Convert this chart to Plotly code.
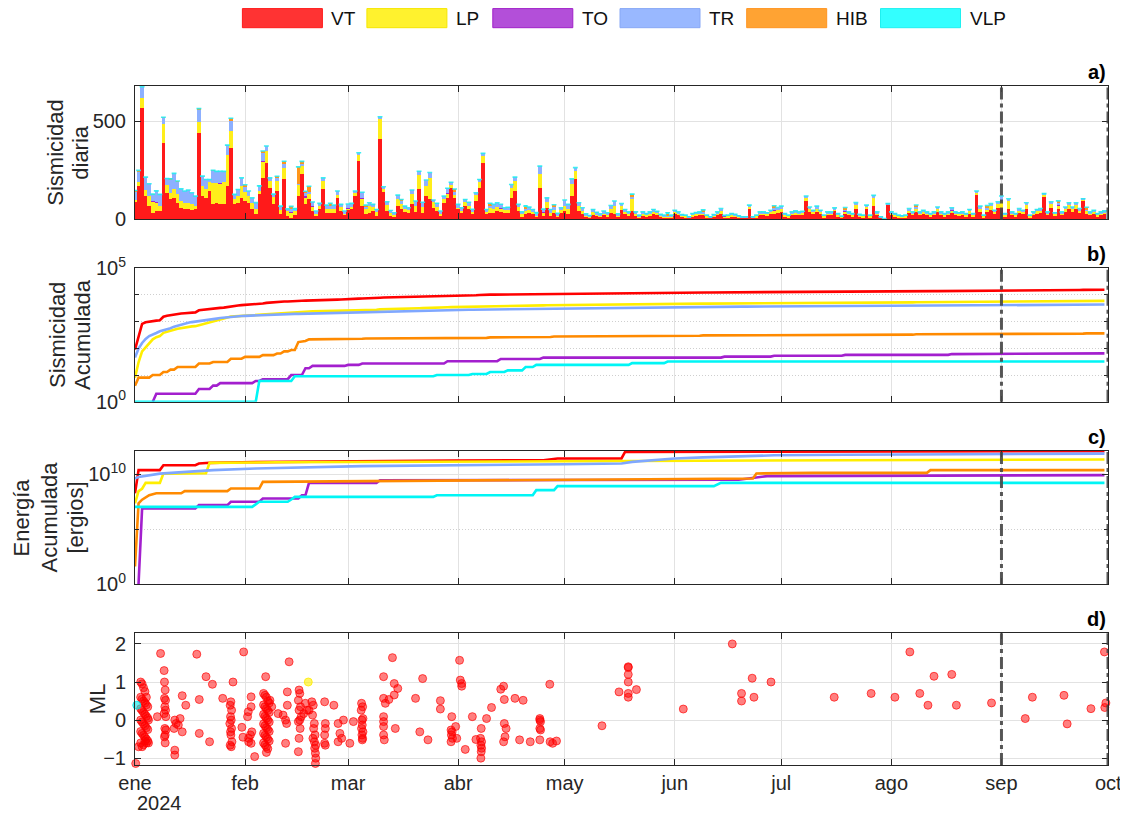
import numpy as np
import pandas as pd
import plotly.graph_objects as go
from plotly.subplots import make_subplots

# ---------------- data ----------------
START = "2024-01-01"
END = "2024-10-01"
N_DAYS = 274
MONTH_TICKS = ["2024-01-01", "2024-02-01", "2024-03-01", "2024-04-01", "2024-05-01",
               "2024-06-01", "2024-07-01", "2024-08-01", "2024-09-01", "2024-10-01"]
MONTH_LABELS = ["ene", "feb", "mar", "abr", "may", "jun", "jul", "ago", "sep", "oct"]
YEAR_LABEL = "2024"
MARK_DATES = ["2024-09-01", "2024-10-01"]
CATEGORIES = ["VT", "LP", "TO", "TR", "HIB", "VLP"]

# daily counts (panel a)
VT_JAN = [90, 170, 570, 120, 68, 34, 43, 43, 390, 136, 105, 110, 85, 60, 54, 51, 48, 54, 440, 119,
          110, 145, 77, 85, 80, 80, 170, 365, 77, 85, 110]
LP_JAN = [8, 22, 47, 30, 51, 60, 45, 25, 94, 42, 31, 43, 43, 34, 28, 34, 29, 14, 57, 51,
          43, 50, 110, 100, 105, 110, 161, 85, 25, 34, 60]
TR_JAN = [45, 54, 60, 66, 63, 32, 57, 60, 34, 31, 68, 82, 64, 62, 63, 65, 59, 51, 60, 51,
          51, 9, 59, 60, 60, 55, 48, 56, 26, 34, 42]
VT_FEB = [94, 85, 51, 26, 128, 212, 289, 161, 77, 145, 26, 204, 17, 8, 25, 119, 230, 77, 102, 43,
          17, 54, 153, 34, 34, 34, 110, 43, 26]
LP_FEB = [46, 35, 34, 29, 16, 83, 59, 33, 40, 50, 24, 58, 26, 26, 17, 59, 40, 33, 26, 24,
          12, 14, 41, 17, 17, 17, 15, 21, 4]
TR_FEB = [30, 25, 25, 30, 22, 45, 26, 18, 12, 17, 18, 22, 11, 20, 11, 5, 16, 18, 13, 18,
          14, 14, 18, 22, 22, 22, 20, 13, 13]
VT_MAR = [51, 54, 119, 298, 68, 26, 34, 43, 20, 408, 145, 43, 20, 17, 68, 51, 37, 34, 77, 37,
          156, 34, 119, 102, 60, 43, 17, 85, 110, 161, 110]
LP_MAR = [6, 8, 17, 30, 38, 30, 33, 22, 16, 102, 10, 29, 14, 5, 38, 29, 19, 15, 51, 32,
          70, 30, 54, 107, 27, 23, 11, 17, 20, 15, 14]
TR_MAR = [20, 20, 9, 12, 30, 12, 18, 12, 15, 13, 12, 18, 12, 12, 18, 17, 12, 11, 22, 25,
          20, 24, 28, 30, 12, 16, 15, 17, 23, 14, 21]
VT_APR = [54, 34, 68, 51, 26, 94, 161, 289, 26, 34, 34, 43, 37, 31, 31, 110, 145, 43, 17, 26,
          31, 26, 17, 161, 20, 60, 17, 34, 14, 34]
LP_APR = [6, 7, 20, 18, 11, 34, 31, 32, 11, 23, 20, 20, 17, 15, 15, 52, 51, 22, 10, 17,
          16, 13, 5, 73, 14, 30, 17, 16, 5, 13]
TR_APR = [17, 19, 14, 19, 14, 8, 12, 16, 14, 14, 23, 22, 17, 14, 14, 16, 20, 12, 12, 11,
          16, 12, 9, 38, 14, 20, 17, 15, 12, 13]
VT_MAY = [43, 30, 122, 204, 43, 30, 14, 10, 25, 18, 14, 22, 17, 34, 30, 14, 50, 30, 22, 44,
          22, 12, 22, 17, 22, 30, 25, 15, 12, 12, 12]
LP_MAY = [28, 22, 57, 42, 25, 15, 7, 5, 14, 9, 7, 11, 9, 22, 38, 7, 19, 11, 9, 58,
          9, 5, 9, 7, 9, 11, 9, 7, 5, 5, 5]
TR_MAY = [28, 25, 28, 18, 17, 15, 8, 5, 12, 10, 8, 10, 8, 15, 26, 8, 12, 10, 8, 13,
          8, 5, 8, 6, 8, 10, 8, 5, 5, 5, 5]
VT_JUN = [26, 22, 14, 12, 8, 17, 20, 22, 22, 12, 8, 14, 22, 30, 9, 12, 17, 15, 10, 8,
          8, 55, 8, 12, 22, 22, 19, 26, 30, 34]
LP_JUN = [14, 11, 6, 6, 4, 8, 9, 11, 11, 6, 4, 7, 11, 12, 5, 6, 8, 7, 6, 4,
          4, 12, 4, 6, 11, 11, 9, 14, 16, 16]
TR_JUN = [7, 6, 5, 4, 2, 5, 6, 6, 6, 4, 2, 4, 6, 14, 3, 4, 5, 5, 3, 2,
          2, 6, 2, 4, 6, 6, 6, 7, 10, 11]
VT_JUL = [40, 17, 12, 22, 25, 22, 24, 98, 36, 26, 40, 26, 12, 22, 22, 47, 17, 9, 26, 22,
          17, 56, 15, 12, 55, 12, 68, 22, 8, 3, 76]
LP_JUL = [16, 8, 6, 11, 12, 11, 12, 10, 18, 14, 16, 14, 6, 11, 11, 6, 8, 5, 14, 11,
          8, 22, 7, 6, 10, 6, 40, 11, 4, 1, 2]
TR_JUL = [12, 5, 4, 6, 7, 6, 6, 12, 10, 7, 12, 7, 4, 6, 6, 6, 5, 3, 7, 6,
          5, 8, 5, 4, 8, 4, 15, 6, 2, 1, 3]
VT_AUG = [22, 17, 12, 10, 12, 34, 22, 40, 22, 26, 22, 17, 22, 40, 22, 17, 22, 34, 22, 19,
          22, 17, 30, 17, 123, 40, 12, 36, 50, 26, 60]
LP_AUG = [11, 8, 6, 6, 6, 14, 11, 14, 11, 14, 11, 8, 11, 14, 11, 8, 11, 14, 11, 9,
          11, 8, 14, 8, 14, 16, 6, 15, 17, 14, 17]
TR_AUG = [6, 5, 4, 3, 4, 8, 6, 10, 6, 7, 6, 5, 6, 10, 6, 5, 6, 8, 6, 6,
          6, 5, 7, 5, 8, 12, 4, 10, 14, 7, 13]
VT_SEP = [60, 17, 56, 22, 17, 34, 26, 55, 12, 22, 30, 34, 115, 22, 60, 19, 55, 22, 40, 55,
          40, 55, 34, 98, 30, 22, 26, 17, 22, 26]
LP_SEP = [32, 8, 37, 11, 8, 14, 14, 17, 6, 11, 14, 14, 11, 11, 17, 9, 16, 11, 14, 17,
          14, 17, 14, 5, 14, 11, 14, 8, 11, 12]
TR_SEP = [28, 5, 13, 6, 5, 8, 7, 13, 4, 6, 7, 8, 6, 6, 13, 6, 10, 6, 10, 13,
          10, 13, 8, 3, 8, 6, 7, 5, 6, 6]

# sparse daily counts: {day index from 1 Jan: count}
HIB_EVENTS = {0: 4, 1: 4, 5: 2, 8: 3, 10: 3, 12: 4, 18: 7, 22: 4, 27: 10, 31: 7, 36: 8, 40: 8,
              42: 13, 44: 10, 46: 85, 47: 10, 48: 8, 49: 28, 55: 10, 65: 5, 75: 5, 90: 10,
              100: 10, 110: 10, 118: 10, 140: 10, 150: 8, 160: 10, 180: 10, 200: 10, 220: 10,
              240: 10, 260: 10, 268: 10}
TO_EVENTS = {5: 1, 6: 1, 18: 1, 22: 1, 24: 1, 34: 1, 36: 1, 44: 3, 48: 8, 50: 4, 60: 2, 64: 3,
             88: 6, 103: 7, 115: 5, 166: 4, 180: 4, 200: 4, 230: 4, 260: 4}
VLP_EVENTS = {0: 1, 35: 5, 45: 3, 85: 1, 95: 1, 100: 2, 105: 2, 110: 5, 113: 4, 140: 4, 150: 4}

# cumulative energy (panel c): day index, ergios
E_VT_DAYS = [0, 1, 7, 8, 17, 18, 20, 21, 30, 45, 60, 90, 115, 119, 137, 138, 180, 221, 222, 273]
E_VT = [1.9e8, 2.5e10, 2.5e10, 7e10, 7e10, 1.0e11, 1.1e11, 1.15e11, 1.3e11, 1.45e11, 1.6e11,
        1.9e11, 2.0e11, 2.9e11, 2.9e11, 1.15e12, 1.2e12, 1.25e12, 1.33e12, 1.35e12]
E_LP_DAYS = [0, 1, 2, 3, 7, 8, 20, 21, 40, 90, 121, 200, 273]
E_LP = [2.3e7, 3e8, 5e8, 1.7e9, 1.7e9, 1.2e10, 1.3e10, 1.15e11, 1.3e11, 1.5e11, 1.8e11, 2.0e11, 2.3e11]
E_TO_DAYS = [1, 2, 17, 18, 26, 27, 35, 36, 46, 47, 48, 49, 68, 69, 121, 170, 178, 230, 273]
E_TO = [1, 8e6, 8e6, 1.6e7, 1.6e7, 3.2e7, 3.2e7, 6.3e7, 6.3e7, 1.26e8, 1.26e8, 1.7e9, 1.7e9,
        3e9, 3.1e9, 3.3e9, 7e9, 8e9, 8.7e9]
E_TR_DAYS = [0, 1, 7, 22, 34, 64, 121, 137, 140, 145, 152, 160, 170, 180, 200, 221, 273]
E_TR = [4.3e9, 6e9, 1.2e10, 2.5e10, 3.5e10, 5.8e10, 8.7e10, 1.0e11, 1.4e11, 2.0e11, 2.9e11,
        3.6e11, 4.6e11, 5.6e11, 6.4e11, 7e11, 8e11]
E_HIB_DAYS = [0, 1, 2, 4, 6, 13, 14, 26, 27, 35, 36, 121, 174, 175, 191, 223, 224, 273]
E_HIB = [40, 2.3e7, 5e7, 1.3e8, 1.9e8, 1.9e8, 3e8, 3e8, 5.2e8, 5.2e8, 2.1e9, 3.3e9, 4.3e9,
         1.23e10, 1.4e10, 1.4e10, 2.5e10, 2.5e10]
E_VLP_DAYS = [0, 33, 35, 43, 44, 45, 84, 85, 112, 113, 118, 119, 163, 165, 273]
E_VLP = [1.1e7, 1.1e7, 3.2e7, 3.2e7, 5.2e7, 9e7, 9e7, 1.26e8, 1.26e8, 3.7e8, 3.7e8, 8.7e8,
         8.7e8, 1.7e9, 1.7e9]

# local magnitudes (panel d): (day index, ML)
ML_VT = [
    (0.2, -1.14), (2.0, -1.21), (1.0, -0.7),
    (1.6, 1.0), (1.6, 0.6), (1.6, 0.3), (1.6, 0.0), (1.6, -0.3), (1.6, -0.6),
    (2.0, 0.95), (2.0, 0.55), (2.0, 0.25), (2.0, -0.05), (2.0, -0.35), (2.0, -0.7),
    (2.4, 0.85), (2.4, 0.5), (2.4, 0.2), (2.4, -0.1), (2.4, -0.4), (2.4, -0.65),
    (2.8, 0.75), (2.8, 0.45), (2.8, 0.15), (2.8, -0.15), (2.8, -0.45), (2.8, -0.55),
    (3.2, 0.6), (3.2, 0.4), (3.2, 0.1), (3.2, -0.2), (3.2, -0.5), (3.2, -0.6),
    (3.6, 0.35), (3.6, 0.05), (3.6, -0.25), (3.6, -0.55), (3.8, -0.6), (3.8, 0.0),
    (6.3, 0.09), (7.2, 1.75),
    (8.2, 1.3), (8.3, 1.0), (8.5, 0.79), (8.3, 0.57), (8.6, 0.52), (8.4, 0.35), (8.6, 0.26),
    (8.2, 0.17), (8.7, 0.09), (8.4, -0.22), (8.7, -0.26), (8.5, -0.39), (8.3, -0.44), (8.5, -0.6),
    (11.2, 0.0), (11.6, -0.09), (11.0, -0.22), (11.2, -0.79), (11.2, -0.92), (12.2, -0.13),
    (12.7, 0.04), (13.3, -0.31), (13.3, 0.64), (14.3, 0.39),
    (17.4, 1.73), (18.1, 0.54), (18.1, -0.35), (20.0, 1.14), (21.8, 0.94), (21.0, -0.57), (24.7, 0.57),
    (27.0, 0.48), (26.8, 0.39), (27.2, 0.26), (26.9, 0.09), (27.1, 0.0), (26.7, -0.09), (27.2, -0.22),
    (26.9, -0.31), (27.0, -0.39), (27.3, -0.57), (26.8, -0.66), (27.1, -0.7),
    (27.6, 1.0), (30.6, 1.79), (30.1, -0.19), (30.4, -0.45),
    (31.7, 0.09), (31.9, 0.22), (32.7, 0.61), (32.7, 0.35), (32.5, -0.39), (32.0, -0.57),
    (32.7, -0.61), (33.7, -0.96), (32.9, -0.31), (32.0, -0.48),
    (36.2, 0.7), (36.6, 0.65), (37.0, 0.6), (37.4, 0.5), (37.8, 0.45), (36.2, 0.4), (36.6, 0.35),
    (37.0, 0.3), (37.4, 0.25), (37.8, 0.2), (36.2, 0.15), (36.6, 0.1), (37.0, 0.05), (37.4, 0.0),
    (37.8, -0.05), (36.2, -0.1), (36.6, -0.15), (37.0, -0.2), (37.4, -0.25), (37.8, -0.3),
    (36.2, -0.35), (36.6, -0.4), (37.0, -0.45), (37.4, -0.5), (37.8, -0.55), (36.2, -0.6),
    (36.6, -0.65), (37.0, -0.7), (37.4, -0.75), (37.0, -0.85),
    (36.8, 1.14), (38.0, 0.52), (38.5, 0.35), (40.3, 0.17), (41.7, 0.13),
    (42.9, 0.74), (42.9, 0.39), (42.4, 0.0), (42.7, -0.09), (42.4, -0.61), (43.4, 1.53),
    (46.2, 0.79), (46.4, 0.7), (46.0, 0.52), (46.6, 0.35), (46.2, 0.26), (46.8, 0.09), (46.4, 0.0),
    (46.0, -0.04), (46.5, -0.22), (46.2, -0.48), (46.0, -0.83),
    (48.0, 0.44), (48.5, 0.26), (47.5, 0.17), (49.0, 0.26),
    (49.8, 0.48), (50.2, 0.39), (50.0, 0.13), (50.5, -0.09), (50.3, -0.22), (50.7, -0.39),
    (50.1, -0.48), (50.5, -0.57), (50.9, -0.66), (50.6, -0.74), (50.8, -0.87), (50.9, -1.0), (50.8, -1.14),
    (53.4, 0.48), (53.6, -0.09), (53.4, -0.39), (53.4, -0.61), (53.6, -0.66), (53.6, -0.22),
    (56.0, 0.39), (57.2, -0.09), (57.7, -0.35), (58.2, -0.48), (57.2, -0.57), (58.7, 0.0),
    (60.5, -0.61), (61.5, -0.04),
    (63.8, 0.44), (64.1, 0.35), (63.7, 0.26), (64.2, 0.04), (63.9, 0.0), (64.0, -0.13),
    (63.8, -0.22), (64.2, -0.31), (63.9, -0.39), (64.1, -0.48), (64.0, -0.52),
    (70.0, 1.14), (70.0, 0.57), (70.0, 0.09), (70.0, -0.04), (70.0, -0.17), (70.0, -0.39),
    (70.2, -0.52), (70.5, 0.44),
    (72.5, 1.64), (73.0, 0.96), (74.0, 0.83), (73.0, 0.66), (71.5, 0.54), (73.3, -0.22),
    (79.0, 0.57), (80.2, -0.31), (81.0, 1.09), (82.5, -0.52), (86.0, 0.51), (86.0, 0.29),
    (89.2, 0.09), (89.0, -0.26), (89.3, -0.31), (89.1, -0.39), (89.4, -0.48), (89.0, -0.57),
    (90.3, -0.17), (90.6, -0.48),
    (91.4, 1.57), (91.6, 1.05), (92.0, 0.96), (92.0, 0.89), (93.0, -0.77), (95.0, 0.09), (96.0, -0.51),
    (97.5, -0.22), (97.3, -0.48), (97.6, -0.57), (97.4, -0.66), (97.6, -0.74), (97.5, -0.83), (97.4, -1.0),
    (99.0, 0.04), (100.4, 0.33), (103.0, 0.81), (103.8, 0.89), (104.0, 0.54), (104.0, -0.09),
    (104.5, -0.22), (104.2, -0.44), (103.8, -0.57),
    (107.0, 0.57), (108.3, -0.52), (109.3, 0.52), (111.3, -0.57),
    (114.0, 0.04), (114.0, 0.0), (114.2, -0.04), (114.0, -0.22), (114.2, -0.26), (114.0, -0.52),
    (116.8, 0.94), (116.9, -0.57), (117.6, -0.61), (118.7, -0.55),
    (131.5, -0.15), (136.3, 0.74), (138.9, 1.4), (138.9, 1.38), (138.9, 1.2), (138.9, 1.0),
    (138.9, 0.7), (138.9, 0.6), (139.5, 2.29), (141.2, 0.8), (154.4, 0.29),
    (168.2, 2.0), (170.8, 0.7), (170.8, 0.5), (173.8, 1.1), (174.3, 0.6), (179.1, 1.0),
    (196.9, 0.6), (207.3, 0.7), (214.0, 0.6), (218.2, 1.79), (221.0, 0.7), (223.3, 0.39),
    (225.0, 1.15), (230.0, 1.2), (231.3, 0.39), (241.2, 0.45), (250.7, 0.04), (252.7, 0.6),
    (261.6, 0.65), (262.5, -0.1), (269.2, 0.3), (273.1, 0.33), (273.4, 0.45), (273.0, 1.79),
]
ML_LP = [(48.8, 1.0)]
ML_VLP = [(0.5, 0.39)]

# ---------------- styling ----------------
FONT = "Liberation Sans, Arial, Helvetica, sans-serif"
TXT = "#262626"
AX = "#262626"
GRID = "#e2e2e2"
MINOR_GRID = "#cfcfcf"
BAR_COLORS = {"VT": "#ff1a1a", "LP": "#ffee1a", "TO": "#a51fd0", "TR": "#8db0ff",
              "HIB": "#ff961a", "VLP": "#22ffff"}
LINE_COLORS = {"VT": "#ff0000", "LP": "#ffee00", "TO": "#a31fce", "TR": "#7fa7ff",
               "HIB": "#ff8a00", "VLP": "#00f5f5"}
SWATCH_FILL = {"VT": "#ff3333", "LP": "#fff22e", "TO": "#b34fd9", "TR": "#99b8ff",
               "HIB": "#ffa333", "VLP": "#33ffff"}
SWATCH_EDGE = {"VT": "#ff1a1a", "LP": "#f5e600", "TO": "#a020c8", "TR": "#88a8f5",
               "HIB": "#ff9420", "VLP": "#1ff0f0"}

# ---------------- build ----------------
days = pd.date_range(START, periods=N_DAYS, freq="D")


def from_events(events):
    arr = np.zeros(N_DAYS)
    for d, c in events.items():
        arr[d] += c
    return arr


def to_dates(day_list):
    return pd.Timestamp(START) + pd.to_timedelta(np.asarray(day_list, dtype=float), unit="D")


daily = {
    "VT": np.array(VT_JAN + VT_FEB + VT_MAR + VT_APR + VT_MAY + VT_JUN + VT_JUL + VT_AUG + VT_SEP, float),
    "LP": np.array(LP_JAN + LP_FEB + LP_MAR + LP_APR + LP_MAY + LP_JUN + LP_JUL + LP_AUG + LP_SEP, float),
    "TO": from_events(TO_EVENTS),
    "TR": np.array(TR_JAN + TR_FEB + TR_MAR + TR_APR + TR_MAY + TR_JUN + TR_JUL + TR_AUG + TR_SEP, float),
    "HIB": from_events(HIB_EVENTS),
    "VLP": from_events(VLP_EVENTS),
}
energy = {"VT": (E_VT_DAYS, E_VT), "LP": (E_LP_DAYS, E_LP), "TO": (E_TO_DAYS, E_TO),
          "TR": (E_TR_DAYS, E_TR), "HIB": (E_HIB_DAYS, E_HIB), "VLP": (E_VLP_DAYS, E_VLP)}

fig = make_subplots(rows=4, cols=1)

for cat in CATEGORIES:
    fig.add_trace(go.Bar(x=days, y=daily[cat], width=86400000, marker_color=BAR_COLORS[cat],
                         marker_line_width=0, name=cat, showlegend=False), row=1, col=1)

# thin cyan edge on top of each stacked column (edge of the top VLP segment)
totals = sum(daily[c] for c in CATEGORIES)
fig.add_trace(go.Scatter(x=days, y=totals, mode="markers", showlegend=False, hoverinfo="skip",
                         marker=dict(symbol="line-ew", size=3.5,
                                     line=dict(color="rgba(40,235,240,0.9)", width=1.6))),
              row=1, col=1)

for cat in CATEGORIES:
    cum = np.cumsum(daily[cat])
    cum = [v if v > 0 else None for v in cum]
    fig.add_trace(go.Scatter(x=days, y=cum, mode="lines", line=dict(color=LINE_COLORS[cat], width=2.6),
                             showlegend=False), row=2, col=1)

for cat in CATEGORIES:
    dd, ee = energy[cat]
    fig.add_trace(go.Scatter(x=to_dates(dd), y=ee, mode="lines",
                             line=dict(color=LINE_COLORS[cat], width=2.6), showlegend=False), row=3, col=1)


def add_ml(events, fill, edge):
    dd = [e[0] for e in events]
    mm = [e[1] for e in events]
    fig.add_trace(go.Scatter(x=to_dates(dd), y=mm, mode="markers", cliponaxis=False,
                             marker=dict(size=8, color=fill, line=dict(color=edge, width=1)),
                             showlegend=False), row=4, col=1)


add_ml(ML_VT, "rgba(255,0,0,0.5)", "rgba(255,0,0,0.65)")
add_ml(ML_LP, "rgba(255,238,0,0.6)", "rgba(255,238,0,0.8)")
add_ml(ML_VLP, "rgba(0,230,230,0.6)", "rgba(0,230,230,0.8)")

DOMAINS = [[0.8034, 1.0], [0.5350, 0.7315], [0.2666, 0.4624], [0.0, 0.1940]]

fig.update_layout(
    width=1120, height=808, margin=dict(l=127, r=20, t=78, b=51, autoexpand=False),
    plot_bgcolor="white", paper_bgcolor="white", barmode="stack", bargap=0,
    showlegend=False, font=dict(family=FONT, size=20, color=TXT),
)

# the last month label sits on the right frame; it is drawn separately so that it is not hidden
tick_text = MONTH_LABELS[:-1] + [""]
for i in range(4):
    xa = "xaxis" if i == 0 else f"xaxis{i + 1}"
    ya = "yaxis" if i == 0 else f"yaxis{i + 1}"
    fig.layout[xa].update(
        type="date", range=[START, END], domain=[0, 1], tickvals=MONTH_TICKS,
        ticktext=tick_text, showticklabels=(i == 3), ticks="inside", ticklen=6,
        tickcolor=AX, showline=True, linecolor=AX, linewidth=1, mirror="allticks",
        showgrid=True, gridcolor=GRID, gridwidth=1, zeroline=False, automargin=False,
        tickfont=dict(size=20, color=TXT), ticklabelstandoff=0,
        matches=None if i == 0 else "x",
    )
    fig.layout[ya].update(
        domain=DOMAINS[i], ticks="inside", ticklen=6, tickcolor=AX, showline=True,
        linecolor=AX, linewidth=1, mirror="allticks", showgrid=True, gridcolor=GRID,
        zeroline=False, tickfont=dict(size=20, color=TXT), ticklabelstandoff=4, automargin=False,
    )

fig.layout.yaxis.update(range=[0, 680], tickvals=[0, 500])
fig.layout.yaxis2.update(type="log", range=[0, 5], tickvals=[1, 1e5],
                         ticktext=["10<sup>0</sup>", "10<sup>5</sup>"],
                         minor=dict(tickvals=[10, 100, 1000, 10000], showgrid=True, griddash="1px,2px",
                                    gridcolor=MINOR_GRID, ticks="inside", ticklen=4, tickcolor=AX))
fig.layout.yaxis3.update(type="log", range=[0, 12.14], tickvals=[1, 1e10],
                         ticktext=["10<sup>0</sup>", "10<sup>10</sup>"],
                         minor=dict(tickvals=[1e5], showgrid=True, griddash="1px,2px",
                                    gridcolor=MINOR_GRID, ticks="inside", ticklen=4, tickcolor=AX))
fig.layout.yaxis4.update(range=[-1.18, 2.28], tickvals=[-1, 0, 1, 2])

# vertical reference lines
for i in range(4):
    xr = "x" if i == 0 else f"x{i + 1}"
    yr = ("y" if i == 0 else f"y{i + 1}") + " domain"
    for md in MARK_DATES:
        fig.add_shape(type="line", xref=xr, yref=yr, x0=md, x1=md, y0=0, y1=1,
                      line=dict(color="rgba(70,70,70,0.9)", width=3, dash="12px,4px,4px,4px"))

# last month label
fig.add_annotation(xref="x4", yref="paper", x=MONTH_TICKS[-1], y=-18 / 679.0, xanchor="center",
                   yanchor="middle", showarrow=False, text=MONTH_LABELS[-1],
                   font=dict(size=20, color=TXT))

# panel letters
for i, letter in enumerate(["a)", "b)", "c)", "d)"]):
    fig.add_annotation(xref="paper", yref="paper", x=1.0, y=DOMAINS[i][1], xanchor="right",
                       yanchor="bottom", yshift=1, showarrow=False, text=f"<b>{letter}</b>",
                       font=dict(size=20, color="#000000"))

# y-axis titles (one annotation per line), x positions in page px
YLABELS = [
    (0, [("Sismicidad", 56), ("diaria", 81)]),
    (1, [("Sismicidad", 57), ("Acumulada", 82)]),
    (2, [("Energía", 22), ("Acumulada", 50), ("[ergios]", 76)]),
    (3, [("ML", 97)]),
]
PLOT_W = 973.0
for i, lines in YLABELS:
    yc = (DOMAINS[i][0] + DOMAINS[i][1]) / 2
    for text, px in lines:
        fig.add_annotation(xref="paper", yref="paper", x=(px - 135) / PLOT_W, y=yc,
                           xanchor="center", yanchor="middle", textangle=-90, showarrow=False,
                           text=text, font=dict(size=22, color=TXT))

# year under first tick
fig.add_annotation(xref="paper", yref="paper", x=0.0, y=-38 / 679.0, xanchor="left",
                   yanchor="middle", showarrow=False, text=YEAR_LABEL, font=dict(size=20, color=TXT))

# legend (drawn manually: wide colour swatches)
LEG_SWATCH_X = [242.4, 366.9, 492.8, 620.0, 746.7, 880.5]
SW_W = 80.0
y0 = (765 - 27.7) / 679.0
y1 = (765 - 8.6) / 679.0
for cat, sx in zip(CATEGORIES, LEG_SWATCH_X):
    fig.add_shape(type="rect", xref="paper", yref="paper", x0=(sx - 135) / PLOT_W,
                  x1=(sx + SW_W - 135) / PLOT_W, y0=y0, y1=y1,
                  fillcolor=SWATCH_FILL[cat], line=dict(color=SWATCH_EDGE[cat], width=1))
    fig.add_annotation(xref="paper", yref="paper", x=(sx + SW_W + 7 - 135) / PLOT_W, y=(y0 + y1) / 2,
                       xanchor="left", yanchor="middle", showarrow=False, text=cat,
                       font=dict(size=19, color="#111111"))

fig.write_html("out.html")
